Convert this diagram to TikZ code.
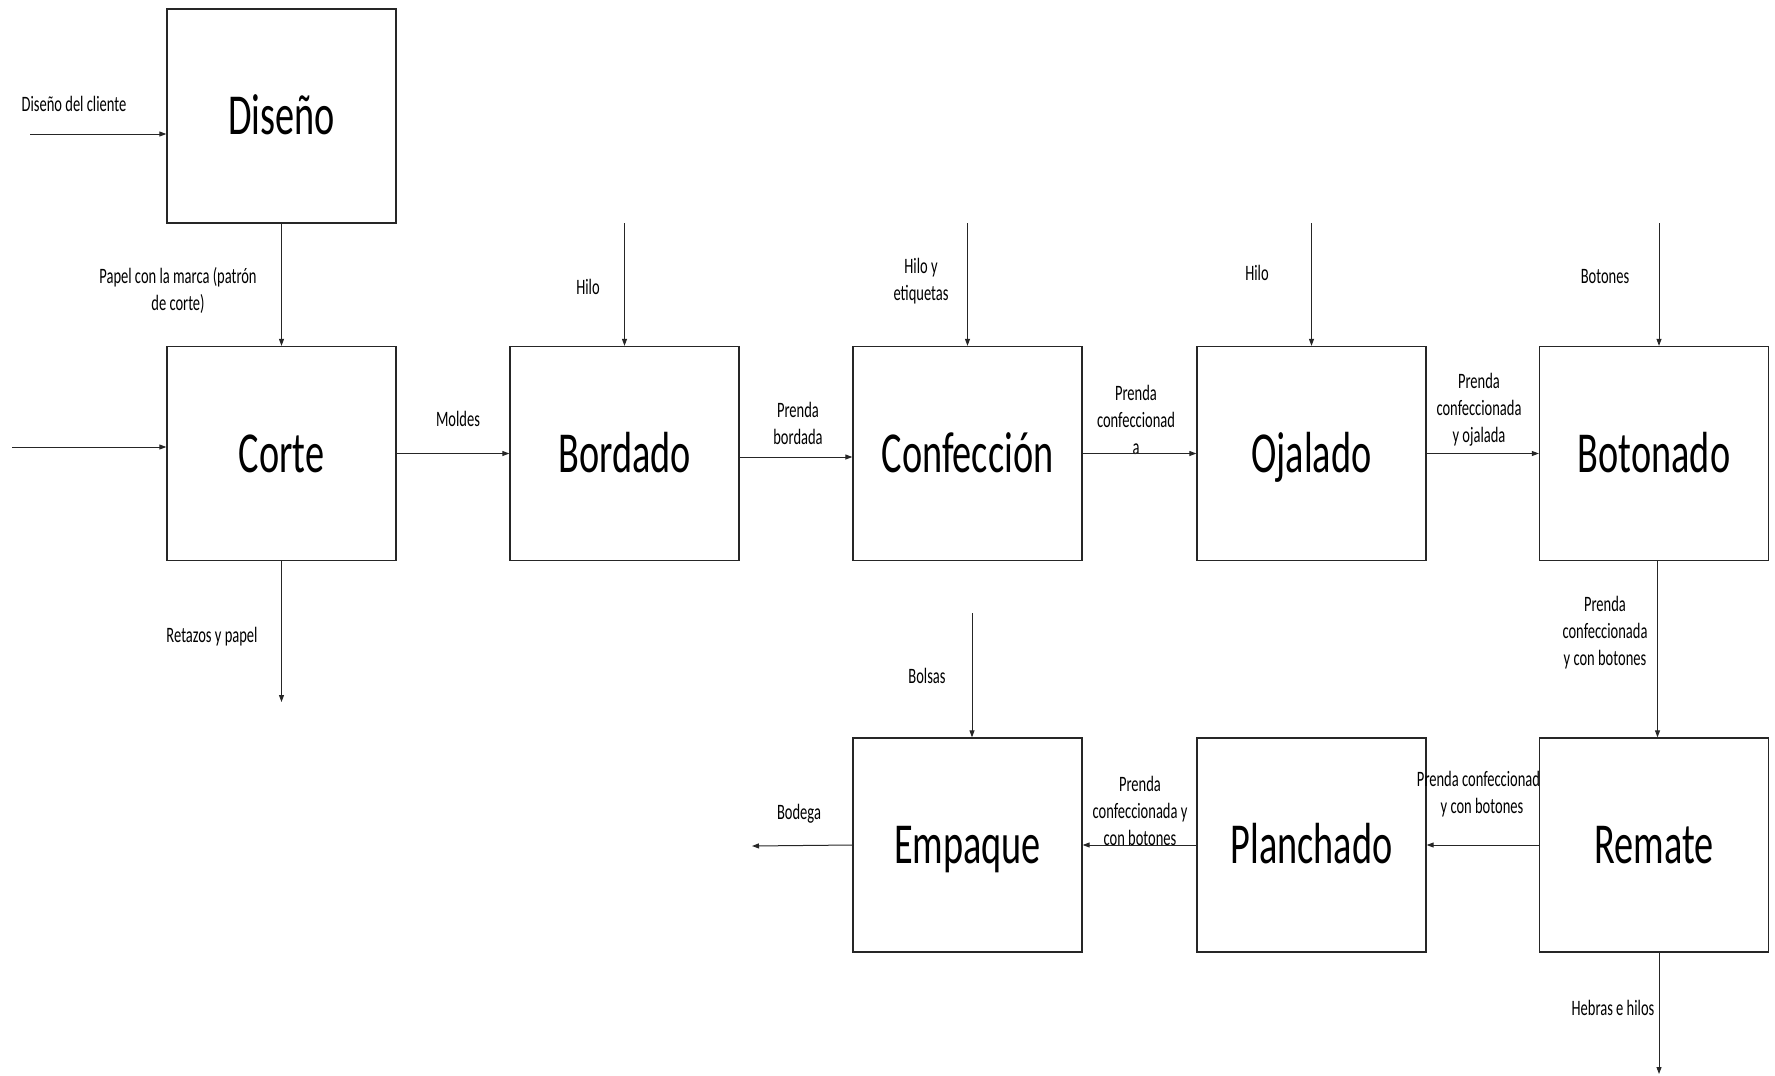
\documentclass[tikz,border=0pt]{standalone}
\usepackage{fontspec}
\setmainfont{Carlito}[FakeStretch=0.66]
\usetikzlibrary{arrows.meta}
\tikzset{
  box/.style={draw=black!85, line width=1.3pt, fill=white, minimum width=229pt, minimum height=214pt, inner sep=0pt, text height=37pt, text depth=0pt, font=\fontsize{58}{60}\selectfont},
  lbl/.style={align=center, inner sep=0pt, font=\fontsize{22}{27}\selectfont},
  arr/.style={line width=1pt, draw=black!85, -{Triangle[length=7pt,width=5pt]}}
}
\begin{document}
\begin{tikzpicture}[x=1pt,y=-1pt]
\useasboundingbox (0,0) rectangle (1775,1076);
% labels
\node[lbl] (t1) at (74,104) {Diseño del cliente};
\node[lbl] (t2) at (178,290) {Papel con la marca (patrón\\de corte)};
\node[lbl] (t3) at (458,419) {Moldes};
\node[lbl] (t4) at (212,637) {Retazos y papel};
\node[lbl] (t5) at (588,287) {Hilo};
\node[lbl] (t6) at (798,423) {Prenda\\bordada};
\node[lbl] (t7) at (921,281) {Hilo y\\etiquetas};
\node[lbl] (t8) at (1136,420) {Prenda\\confeccionad\\a};
\node[lbl] (t9) at (1257,273) {Hilo};
\node[lbl] (t10) at (1479,410) {Prenda\\confeccionada\\y ojalada};
\node[lbl] (t11) at (1605,277) {Botones};
\node[lbl] (t12) at (1605,633) {Prenda\\confeccionada\\y con botones};
\node[lbl] (t14) at (927,676) {Bolsas};
\node[lbl] (t15) at (1140,811) {Prenda\\confeccionada y\\con botones};
\node[lbl] (t16) at (799,814) {Bodega};
\node[lbl] (t17) at (1613,1008) {Hebras e hilos};
% boxes
\node[box] (diseno) at (281.5,116) {Diseño};
\node[box] (corte) at (281.5,453.5) {Corte};
\node[box] (bordado) at (624.5,453.5) {Bordado};
\node[box] (confeccion) at (967.5,453.5) {Confección};
\node[box] (ojalado) at (1311.5,453.5) {Ojalado};
\node[box] (botonado) at (1654,453.5) {Botonado};
\node[box] (empaque) at (967.5,845) {Empaque};
\node[box] (planchado) at (1311.5,845) {Planchado};
\node[lbl] (t13) at (1482,794) {Prenda confeccionada\\y con botones};
\node[box] (remate) at (1654,845) {Remate};
% free ends
\coordinate (dcin) at (30,134);
\coordinate (cin) at (12,447);
\coordinate (cout) at (281.5,702);
\coordinate (h1) at (624.5,223);
\coordinate (h2) at (967.5,223);
\coordinate (h3) at (1311.5,223);
\coordinate (h4) at (1659,223);
\coordinate (bol) at (972,613);
\coordinate (bod) at (752,846);
\coordinate (heb) at (1659,1074);
% connectors
\draw[arr] (dcin) -- (dcin -| diseno.west);
\draw[arr] (diseno.south) -- (corte.north);
\draw[arr] (cin) -- (cin -| corte.west);
\draw[arr] (corte.east) -- (bordado.west);
\draw[arr] ([yshift=-3.5pt]bordado.east) -- ([yshift=-3.5pt]confeccion.west);
\draw[arr] (confeccion.east) -- (ojalado.west);
\draw[arr] (ojalado.east) -- (botonado.west);
\draw[arr] (corte.south) -- (cout);
\draw[arr] (h1) -- (bordado.north);
\draw[arr] (h2) -- (confeccion.north);
\draw[arr] (h3) -- (ojalado.north);
\draw[arr] (h4) -- (h4 |- botonado.north);
\draw[arr] ([xshift=3.5pt]botonado.south) -- ([xshift=3.5pt]botonado.south |- remate.north);
\draw[arr] (remate.west) -- (planchado.east);
\draw[arr] (planchado.west) -- (empaque.east);
\draw[arr] (empaque.west) -- (bod);
\draw[arr] (bol) -- (bol |- empaque.north);
\draw[arr] (heb |- remate.south) -- (heb);
\end{tikzpicture}
\end{document}
